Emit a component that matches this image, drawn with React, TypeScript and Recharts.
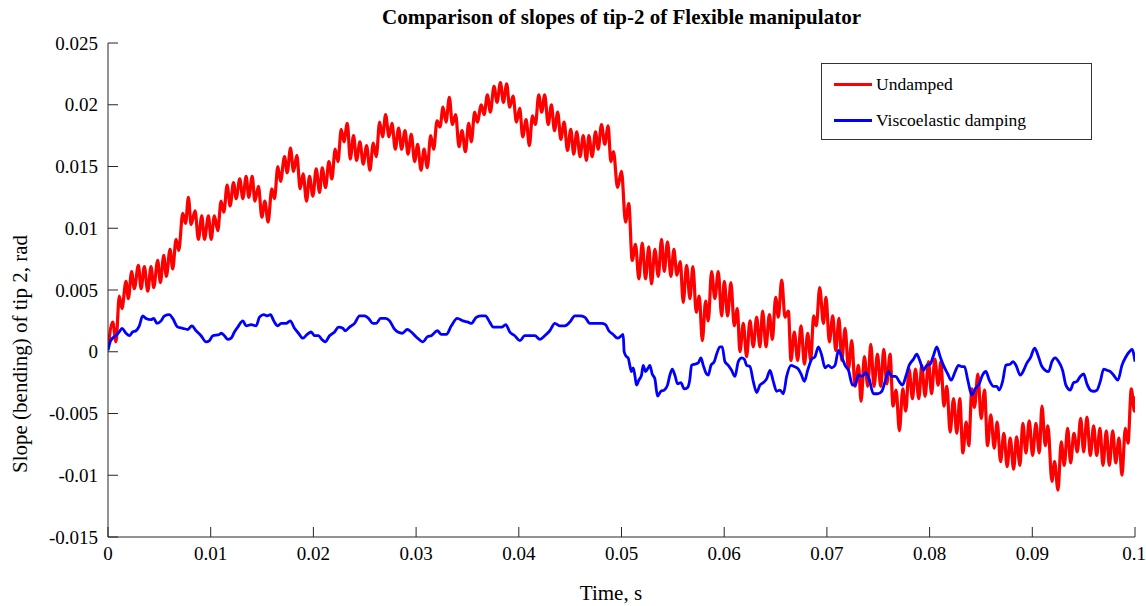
import React from 'react';
import { LineChart, Line, XAxis, YAxis } from 'recharts';

const xTicks = [0, 0.01, 0.02, 0.03, 0.04, 0.05, 0.06, 0.07, 0.08, 0.09, 0.1];
const yTicks = [-0.015, -0.01, -0.005, 0, 0.005, 0.01, 0.015, 0.02, 0.025];

const titleText = 'Comparison of slopes of tip-2 of Flexible manipulator';
const xLabelText = 'Time, s';
const yLabelText = 'Slope (bending) of tip 2, rad';
const seriesNames = ['Undamped', 'Viscoelastic damping'];
const seriesColors = ['#ff0000', '#0000ff'];

// [time s, slope rad] — undamped response (peaks and troughs)
const undamped: [number, number][] = [
  [0, 0.0003], [0.00046, 0.0024], [0.00078, 0.0008], [0.0011, 0.0045], [0.00136, 0.0035],
  [0.00175, 0.0057], [0.00198, 0.0043], [0.0023, 0.0065], [0.00256, 0.0051], [0.00296, 0.007],
  [0.00322, 0.0051], [0.00354, 0.0069], [0.00387, 0.0049], [0.00419, 0.0069], [0.00445, 0.0052],
  [0.00484, 0.0074], [0.0051, 0.0056], [0.00543, 0.0078], [0.00568, 0.0061], [0.00604, 0.0083],
  [0.0063, 0.0067], [0.00663, 0.0091], [0.00689, 0.0082], [0.00728, 0.0112], [0.00755, 0.0104],
  [0.00783, 0.0125], [0.00809, 0.0103], [0.00848, 0.0114], [0.0088, 0.0091], [0.00913, 0.011],
  [0.00939, 0.0091], [0.00978, 0.011], [0.01004, 0.0091], [0.01036, 0.011], [0.01069, 0.0098],
  [0.01101, 0.0122], [0.01128, 0.0113], [0.0116, 0.0135], [0.01189, 0.0118], [0.01222, 0.0137],
  [0.01248, 0.0124], [0.01283, 0.014], [0.01313, 0.0124], [0.01345, 0.0142], [0.01371, 0.0125],
  [0.01404, 0.0142], [0.0143, 0.0122], [0.01465, 0.0134], [0.01498, 0.0109], [0.01527, 0.0122],
  [0.01559, 0.0105], [0.01595, 0.0132], [0.01621, 0.0124], [0.01654, 0.015], [0.0168, 0.0138],
  [0.01719, 0.0158], [0.01745, 0.0145], [0.01777, 0.0165], [0.01806, 0.0146], [0.01839, 0.0159],
  [0.01871, 0.0132], [0.019, 0.0144], [0.01933, 0.0122], [0.01962, 0.0142], [0.01995, 0.0126],
  [0.02027, 0.0148], [0.0206, 0.0129], [0.02086, 0.0149], [0.02118, 0.0133], [0.02151, 0.0154],
  [0.0218, 0.014], [0.02212, 0.0164], [0.02239, 0.0154], [0.02271, 0.018], [0.02297, 0.017],
  [0.0233, 0.0185], [0.02359, 0.0156], [0.02391, 0.0175], [0.0242, 0.0155], [0.02453, 0.017],
  [0.02485, 0.0152], [0.02518, 0.0167], [0.0255, 0.0147], [0.02583, 0.0169], [0.02612, 0.0158],
  [0.02645, 0.0186], [0.02674, 0.0174], [0.02703, 0.0192], [0.02736, 0.0174], [0.02765, 0.0185],
  [0.02797, 0.0164], [0.0283, 0.0181], [0.02859, 0.0164], [0.02892, 0.0179], [0.02921, 0.016],
  [0.02953, 0.0176], [0.02986, 0.0154], [0.03015, 0.0168], [0.03048, 0.0147], [0.03077, 0.0164],
  [0.03109, 0.0149], [0.03142, 0.0175], [0.03171, 0.0164], [0.03204, 0.0187], [0.03233, 0.0182],
  [0.03262, 0.0198], [0.03291, 0.0186], [0.03324, 0.0206], [0.03353, 0.0184], [0.03385, 0.0192],
  [0.03418, 0.0166], [0.03447, 0.0179], [0.0348, 0.0162], [0.03512, 0.0185], [0.03538, 0.017],
  [0.0357, 0.0194], [0.03596, 0.0186], [0.03635, 0.02], [0.03662, 0.0192], [0.03694, 0.0208],
  [0.03723, 0.0194], [0.03759, 0.0215], [0.03788, 0.0202], [0.03821, 0.0218], [0.0385, 0.0202],
  [0.03882, 0.0217], [0.03911, 0.0198], [0.03944, 0.0207], [0.03977, 0.0186], [0.04009, 0.0197],
  [0.04038, 0.0174], [0.04071, 0.0188], [0.04103, 0.0167], [0.04133, 0.0191], [0.04162, 0.0184],
  [0.04194, 0.0208], [0.04223, 0.0194], [0.04252, 0.0208], [0.04286, 0.0184], [0.04318, 0.02],
  [0.04347, 0.0179], [0.04379, 0.0194], [0.04409, 0.0172], [0.04441, 0.0186], [0.04474, 0.0163],
  [0.04506, 0.018], [0.04535, 0.016], [0.04564, 0.0178], [0.04597, 0.0158], [0.04627, 0.0175],
  [0.04659, 0.0155], [0.04682, 0.0175], [0.04714, 0.0158], [0.04747, 0.0178], [0.04773, 0.0164],
  [0.04805, 0.0184], [0.04837, 0.0168], [0.0487, 0.0183], [0.04896, 0.0154], [0.04922, 0.0162],
  [0.04961, 0.0133], [0.05, 0.0146], [0.05039, 0.0105], [0.05071, 0.012], [0.05104, 0.0074],
  [0.05136, 0.0087], [0.05169, 0.0059], [0.05202, 0.0088], [0.05234, 0.0059], [0.05266, 0.0085],
  [0.05292, 0.0055], [0.05325, 0.0083], [0.05358, 0.0061], [0.0539, 0.0091], [0.05416, 0.0065],
  [0.05448, 0.0089], [0.05481, 0.0061], [0.0551, 0.0083], [0.05539, 0.0062], [0.05572, 0.0073],
  [0.05601, 0.004], [0.05634, 0.007], [0.05666, 0.0043], [0.05695, 0.0069], [0.05728, 0.0032],
  [0.05757, 0.0045], [0.05787, 0.0009], [0.05819, 0.0041], [0.05845, 0.0025], [0.05877, 0.0065],
  [0.05909, 0.0043], [0.05942, 0.0065], [0.05975, 0.0029], [0.06001, 0.0057], [0.06033, 0.0029],
  [0.06065, 0.0056], [0.06098, 0.0021], [0.06128, 0.0035], [0.06153, 0.0], [0.06186, 0.0023],
  [0.06218, -0.0004], [0.06251, 0.0025], [0.06283, 0.0004], [0.06316, 0.0028], [0.06348, 0.0004],
  [0.06374, 0.0033], [0.06407, 0.0004], [0.0644, 0.003], [0.06469, 0.001], [0.06501, 0.0044],
  [0.06527, 0.0028], [0.0656, 0.0058], [0.06592, 0.0028], [0.06625, 0.0033], [0.0665, -0.0007],
  [0.06683, 0.0016], [0.06715, -0.0007], [0.06748, 0.0021], [0.06781, -0.001], [0.06813, 0.0015],
  [0.06842, -0.0007], [0.06871, 0.0029], [0.06897, 0.0021], [0.0693, 0.0052], [0.06966, 0.0023],
  [0.06991, 0.0044], [0.07024, 0.0008], [0.07057, 0.0029], [0.07086, 0.0001], [0.07118, 0.0027],
  [0.07144, -0.0007], [0.07177, 0.0019], [0.0721, -0.0014], [0.07242, 0.0009], [0.07274, -0.0028],
  [0.07307, -0.0011], [0.07333, -0.004], [0.07365, -0.0004], [0.07398, -0.0028], [0.07427, 0.0006],
  [0.07459, -0.0028], [0.07492, -0.0002], [0.07524, -0.0028], [0.07554, 0.0002], [0.07583, -0.0026],
  [0.07615, -0.0002], [0.07644, -0.0044], [0.07674, -0.0031], [0.07706, -0.0064], [0.07739, -0.003],
  [0.07768, -0.0048], [0.078, -0.0014], [0.07833, -0.0038], [0.07862, -0.0014], [0.07895, -0.0038],
  [0.07924, -0.0011], [0.07956, -0.0036], [0.07989, -0.0008], [0.08019, -0.0034], [0.08051, -0.0006],
  [0.08083, -0.0027], [0.0811, -0.0008], [0.08139, -0.0044], [0.08168, -0.0028], [0.082, -0.0065],
  [0.08233, -0.0038], [0.08265, -0.0066], [0.08294, -0.0038], [0.08324, -0.0082], [0.08356, -0.0057],
  [0.08382, -0.0076], [0.08411, -0.003], [0.08437, -0.0045], [0.0847, -0.0018], [0.08502, -0.0054],
  [0.08535, -0.0031], [0.08564, -0.0076], [0.08596, -0.0051], [0.08629, -0.0078], [0.08658, -0.0057],
  [0.08691, -0.0089], [0.08723, -0.0066], [0.08755, -0.0093], [0.08785, -0.007], [0.08818, -0.0095],
  [0.08847, -0.0069], [0.08879, -0.0092], [0.08908, -0.0058], [0.08938, -0.0082], [0.0897, -0.0056],
  [0.09003, -0.0084], [0.09035, -0.0058], [0.09068, -0.0082], [0.09094, -0.0044], [0.09126, -0.0076],
  [0.09152, -0.006], [0.09191, -0.0105], [0.09217, -0.0089], [0.0925, -0.0112], [0.09282, -0.0073],
  [0.09311, -0.0092], [0.09344, -0.0062], [0.09373, -0.009], [0.09405, -0.0066], [0.09438, -0.0081],
  [0.09471, -0.0054], [0.095, -0.0081], [0.09532, -0.0053], [0.09565, -0.0084], [0.09597, -0.006],
  [0.09627, -0.0084], [0.09659, -0.0062], [0.09688, -0.0092], [0.09721, -0.0064], [0.0975, -0.0092],
  [0.09783, -0.0064], [0.09812, -0.009], [0.09844, -0.007], [0.09873, -0.01], [0.09906, -0.0062],
  [0.09932, -0.0074], [0.09964, -0.003], [0.09994, -0.0048], [0.1, -0.0036],
];

// [time s, slope rad] — viscoelastic damping response
const viscoelastic: [number, number][] = [
  [0, 0.0001], [0.00026, 0.0009], [0.00075, 0.0013], [0.0011, 0.0016], [0.00136, 0.0019],
  [0.00175, 0.0015], [0.00208, 0.0013], [0.0024, 0.0016], [0.00273, 0.0017], [0.00305, 0.0021],
  [0.00338, 0.0029], [0.0037, 0.0027], [0.00419, 0.0026], [0.00445, 0.0027], [0.00477, 0.0023],
  [0.00517, 0.0025], [0.00549, 0.0029], [0.00598, 0.003], [0.0063, 0.0027], [0.00679, 0.002],
  [0.00728, 0.0019], [0.00777, 0.0018], [0.00816, 0.0021], [0.00858, 0.0017], [0.00906, 0.0013],
  [0.00955, 0.0008], [0.00988, 0.0009], [0.0102, 0.0013], [0.01085, 0.0014], [0.01101, 0.0015],
  [0.01134, 0.0013], [0.01166, 0.001], [0.01199, 0.0011], [0.01231, 0.0016], [0.01264, 0.002],
  [0.01313, 0.0025], [0.01345, 0.0021], [0.01394, 0.0022], [0.01443, 0.0021], [0.01475, 0.0028],
  [0.01517, 0.003], [0.0155, 0.0029], [0.01582, 0.003], [0.01614, 0.0025], [0.01653, 0.0021],
  [0.01686, 0.0023], [0.01735, 0.0023], [0.01774, 0.0025], [0.01816, 0.0019], [0.01855, 0.0015],
  [0.01897, 0.0011], [0.01939, 0.0014], [0.01978, 0.0016], [0.02011, 0.0013], [0.0205, 0.0013],
  [0.02082, 0.001], [0.02115, 0.0008], [0.02157, 0.0013], [0.02206, 0.0016], [0.02245, 0.002],
  [0.02287, 0.0019], [0.0231, 0.0017], [0.02352, 0.002], [0.02401, 0.0023], [0.0245, 0.0029],
  [0.02498, 0.0029], [0.02537, 0.0027], [0.0258, 0.0023], [0.02612, 0.0023], [0.02654, 0.0027],
  [0.02703, 0.0027], [0.02742, 0.0025], [0.02784, 0.0019], [0.02823, 0.0016], [0.02866, 0.0015],
  [0.02914, 0.0018], [0.02953, 0.0016], [0.03002, 0.0012], [0.03067, 0.0008], [0.03109, 0.0012],
  [0.03148, 0.0013], [0.03207, 0.0017], [0.03246, 0.0014], [0.03294, 0.0014], [0.03343, 0.0021],
  [0.03401, 0.0027], [0.03457, 0.0025], [0.03506, 0.0024], [0.03538, 0.0023], [0.03587, 0.0028],
  [0.03635, 0.0029], [0.03674, 0.0029], [0.03717, 0.0024], [0.0375, 0.002], [0.03798, 0.002],
  [0.03837, 0.002], [0.03873, 0.0022], [0.03912, 0.0016], [0.03961, 0.0013], [0.0401, 0.0009],
  [0.04058, 0.0013], [0.04107, 0.0013], [0.04156, 0.0013], [0.04205, 0.001], [0.04253, 0.0013],
  [0.04302, 0.0017], [0.04351, 0.0023], [0.044, 0.0021], [0.04448, 0.0021], [0.04497, 0.0024],
  [0.04546, 0.0029], [0.04594, 0.0029], [0.04643, 0.0028], [0.04692, 0.0023], [0.04756, 0.0023],
  [0.04805, 0.0023], [0.04844, 0.0022], [0.04877, 0.0017], [0.04919, 0.0014], [0.04961, 0.0011],
  [0.05, 0.0013], [0.05016, 0.0014], [0.05026, 0.0], [0.05049, -0.0004], [0.05065, -0.0005],
  [0.05081, -0.0011], [0.05097, -0.0016], [0.05114, -0.0013], [0.0513, -0.0019], [0.05146, -0.0027],
  [0.05169, -0.0023], [0.05195, -0.0019], [0.05211, -0.0011], [0.05234, -0.0016], [0.0526, -0.0013],
  [0.05276, -0.0011], [0.05299, -0.0018], [0.05325, -0.0022], [0.05351, -0.0036], [0.05383, -0.0032],
  [0.05416, -0.0031], [0.05448, -0.0027], [0.05471, -0.0019], [0.05494, -0.0014], [0.0552, -0.0019],
  [0.05546, -0.0026], [0.05578, -0.0025], [0.05611, -0.003], [0.05643, -0.0029], [0.05666, -0.0022],
  [0.05682, -0.0011], [0.05715, -0.001], [0.05747, -0.0009], [0.05773, -0.0005], [0.05796, -0.0011],
  [0.05828, -0.0018], [0.05845, -0.0019], [0.05871, -0.0011], [0.05903, -0.0008], [0.05926, -0.0002],
  [0.05958, 0.0004], [0.05981, 0.0004], [0.06007, -0.0008], [0.0604, -0.0011], [0.06072, -0.0015],
  [0.06105, -0.002], [0.06137, -0.0008], [0.0617, -0.0005], [0.06196, -0.0006], [0.06218, -0.0011],
  [0.06251, -0.0012], [0.06283, -0.0024], [0.06316, -0.0033], [0.06348, -0.0027], [0.06381, -0.0025],
  [0.06413, -0.0022], [0.06446, -0.0015], [0.06478, -0.0024], [0.06511, -0.0032], [0.06543, -0.0031],
  [0.06576, -0.0034], [0.06608, -0.002], [0.06651, -0.0011], [0.06683, -0.0012], [0.06722, -0.0014],
  [0.06748, -0.0018], [0.06781, -0.0024], [0.06813, -0.0015], [0.06852, -0.0006], [0.06884, -0.0004],
  [0.06917, 0.0004], [0.0695, -0.0003], [0.06982, -0.0013], [0.07014, -0.0011], [0.07047, -0.0013],
  [0.07079, -0.0011], [0.07112, 0.0001], [0.07144, -0.0004], [0.07177, -0.0011], [0.0721, -0.0015],
  [0.07249, -0.0027], [0.07274, -0.0027], [0.07307, -0.0019], [0.0734, -0.002], [0.07379, -0.0017],
  [0.07411, -0.0022], [0.07453, -0.0034], [0.07495, -0.0034], [0.07534, -0.0032], [0.07567, -0.0024],
  [0.07599, -0.0016], [0.07632, -0.002], [0.07671, -0.002], [0.07703, -0.0024], [0.07736, -0.0027],
  [0.07768, -0.002], [0.07801, -0.0011], [0.07843, -0.0006], [0.07875, -0.0002], [0.07908, -0.0008],
  [0.0794, -0.0015], [0.07973, -0.0011], [0.08005, -0.001], [0.08038, -0.0003], [0.0807, 0.0004],
  [0.08103, -0.0004], [0.08135, -0.0011], [0.08177, -0.0018], [0.0821, -0.0023], [0.08249, -0.0016],
  [0.08281, -0.0011], [0.08314, -0.0012], [0.0834, -0.0012], [0.08372, -0.0023], [0.08411, -0.0035],
  [0.08444, -0.003], [0.08483, -0.0026], [0.08515, -0.0019], [0.08548, -0.0016], [0.08581, -0.0023],
  [0.08623, -0.0028], [0.08655, -0.0028], [0.08678, -0.0031], [0.08711, -0.0024], [0.08743, -0.0011],
  [0.08786, -0.001], [0.08812, -0.0008], [0.08841, -0.0011], [0.08883, -0.0019], [0.08916, -0.0015],
  [0.08948, -0.0009], [0.08981, -0.0005], [0.09023, 0.0003], [0.09056, -0.0003], [0.09088, -0.0011],
  [0.09126, -0.0015], [0.09159, -0.0016], [0.09191, -0.0008], [0.09224, -0.0005], [0.09256, -0.0008],
  [0.09295, -0.0015], [0.09327, -0.0027], [0.0937, -0.0031], [0.09402, -0.0025], [0.09435, -0.0024],
  [0.09467, -0.002], [0.095, -0.0018], [0.09532, -0.0026], [0.09565, -0.0031], [0.09597, -0.0032],
  [0.0963, -0.0031], [0.09662, -0.0024], [0.09695, -0.0014], [0.09727, -0.0015], [0.0976, -0.0016],
  [0.09792, -0.0019], [0.09834, -0.0023], [0.09873, -0.0011], [0.09912, -0.0004], [0.09945, 0.0],
  [0.09971, 0.0002], [0.1, -0.0008],
];

const undampedData = undamped.map(([t, v]) => ({ t, v }));
const viscoData = viscoelastic.map(([t, v]) => ({ t, v }));

const FONT = '"Liberation Serif", "Times New Roman", serif';
const AXIS = '#262626';
const fmt = (v: number) => String(v);
const blank = () => '';

export default function App() {
  const tickStyle = { fontSize: 19, fill: '#000', fontFamily: FONT };
  return (
    <div style={{ position: 'absolute', left: 0, top: 0, width: 1146, height: 606, background: '#fff', fontFamily: FONT }}>
      <LineChart width={1146} height={606} margin={{ top: 43, right: 11, bottom: 39, left: 48 }}>
        <XAxis
          dataKey="t" type="number" domain={[0, 0.1]} ticks={xTicks} tickFormatter={fmt}
          allowDataOverflow height={30} tickSize={-10} tickMargin={20}
          stroke={AXIS} tick={tickStyle} tickLine={{ stroke: AXIS }} axisLine={{ stroke: AXIS }}
        />
        <XAxis
          xAxisId="top" orientation="top" dataKey="t" type="number" domain={[0, 0.1]} ticks={xTicks}
          tickFormatter={blank} allowDataOverflow height={0} tickSize={-10}
          stroke={AXIS} tickLine={{ stroke: AXIS }} axisLine={{ stroke: AXIS }}
        />
        <YAxis
          type="number" domain={[-0.015, 0.025]} ticks={yTicks} tickFormatter={fmt}
          allowDataOverflow width={60} tickSize={-10} tickMargin={20}
          stroke={AXIS} tick={tickStyle} tickLine={{ stroke: AXIS }} axisLine={{ stroke: AXIS }}
        />
        <YAxis
          yAxisId="right" orientation="right" type="number" domain={[-0.015, 0.025]} ticks={yTicks}
          tickFormatter={blank} allowDataOverflow width={0} tickSize={-10}
          stroke={AXIS} tickLine={{ stroke: AXIS }} axisLine={{ stroke: AXIS }}
        />
        <Line
          data={undampedData} dataKey="v" name={seriesNames[0]} type="monotone"
          stroke={seriesColors[0]} strokeWidth={3.2} dot={false} activeDot={false} isAnimationActive={false}
        />
        <Line
          data={viscoData} dataKey="v" name={seriesNames[1]} type="monotone"
          stroke={seriesColors[1]} strokeWidth={2.8} dot={false} activeDot={false} isAnimationActive={false}
        />
      </LineChart>

      <div style={{ position: 'absolute', left: 0, width: 1243, top: 4, textAlign: 'center', fontWeight: 'bold', fontSize: 21, lineHeight: '26px', color: '#000' }}>
        {titleText}
      </div>
      <div style={{ position: 'absolute', left: 0, width: 1222, top: 580, textAlign: 'center', fontSize: 21, lineHeight: '26px', color: '#000' }}>
        {xLabelText}
      </div>
      <div style={{ position: 'absolute', left: 20, top: 354, width: 0, height: 0 }}>
        <div style={{ position: 'absolute', left: -200, top: -13, width: 400, textAlign: 'center', fontSize: 21, lineHeight: '26px', color: '#000', transform: 'rotate(-90deg)' }}>
          {yLabelText}
        </div>
      </div>

      <div style={{ position: 'absolute', left: 821, top: 63, width: 269, height: 75, border: '1px solid #333', background: '#fff' }}>
        {seriesNames.map((name, i) => (
          <div key={name} style={{ position: 'absolute', left: 12, top: i === 0 ? 7 : 43, height: 26, display: 'flex', alignItems: 'center' }}>
            <div style={{ width: 38, height: 0, borderTop: `3px solid ${seriesColors[i]}`, marginRight: 4 }} />
            <span style={{ fontSize: 17.5, color: '#000', whiteSpace: 'nowrap' }}>{name}</span>
          </div>
        ))}
      </div>
    </div>
  );
}
